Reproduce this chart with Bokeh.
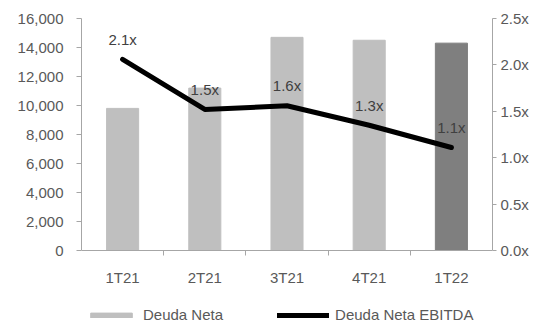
from bokeh.plotting import figure
from bokeh.models import (ColumnDataSource, Range1d, LinearAxis, FixedTicker,
                          NumeralTickFormatter, PrintfTickFormatter, Legend, LegendItem)
from bokeh.core.properties import value
from bokeh.embed import file_html
from bokeh.resources import INLINE

categories = ["1T21", "2T21", "3T21", "4T21", "1T22"]
deuda_neta = [9800, 11200, 14700, 14500, 14300]
ratio = [2.06, 1.52, 1.56, 1.35, 1.11]
ratio_labels = ["2.1x", "1.5x", "1.6x", "1.3x", "1.1x"]
bar_colors = ["#BFBFBF", "#BFBFBF", "#BFBFBF", "#BFBFBF", "#7F7F7F"]
left_ticks = [0, 2000, 4000, 6000, 8000, 10000, 12000, 14000, 16000]
right_ticks = [0.0, 0.5, 1.0, 1.5, 2.0, 2.5]

FONT = "Liberation Sans"
FS = "15px"
TXT = "#595959"
AX = "#A6A6A6"

# frame spans down to the bottom edge; value 0 sits 74px above it
LEFT_MAX = 16000
RIGHT_MAX = 2.5
PLOT_PX = 232
BELOW_PX = 74

xpos = [i + 0.5 for i in range(len(categories))]
src = ColumnDataSource(dict(x=xpos, cat=categories, dn=deuda_neta, r=ratio,
                            rl=ratio_labels, c=bar_colors))

p = figure(width=550, height=324, output_backend="svg", toolbar_location=None,
           x_range=Range1d(0, len(categories)),
           y_range=Range1d(-BELOW_PX * LEFT_MAX / PLOT_PX, LEFT_MAX),
           min_border_left=81, min_border_right=58, min_border_top=18,
           min_border_bottom=0)
p.outline_line_color = None
p.xgrid.grid_line_color = None
p.ygrid.grid_line_color = None
p.background_fill_color = "white"
p.border_fill_color = "white"

p.extra_y_ranges = {"ratio": Range1d(-BELOW_PX * RIGHT_MAX / PLOT_PX, RIGHT_MAX)}

bars = p.vbar(x="x", top="dn", bottom=0, width=0.39, color="c", source=src)
line = p.line(x="x", y="r", line_color="black", line_width=5, line_join="round",
              line_cap="round", y_range_name="ratio", source=src)
p.text(x="x", y="r", text="rl", y_range_name="ratio", source=src, y_offset=-20,
       text_align="center", text_baseline="middle", text_font=value(FONT),
       text_font_size=FS, text_color="#404040")

# x axis, fixed at value 0
xa = p.xaxis[0]
xa.fixed_location = 0
xa.ticker = FixedTicker(ticks=xpos, minor_ticks=[1, 2, 3, 4])
xa.major_label_overrides = {x: c for x, c in zip(xpos, categories)}
xa.major_tick_line_color = None
xa.minor_tick_line_color = AX
xa.minor_tick_out = 5
xa.minor_tick_in = 0
xa.axis_line_color = AX
xa.major_label_standoff = 12

# left axis
ya = p.yaxis[0]
ya.bounds = (0, LEFT_MAX)
ya.ticker = FixedTicker(ticks=left_ticks)
ya.formatter = NumeralTickFormatter(format="0,0")
ya.major_tick_out = 5
ya.major_tick_in = 0
ya.minor_tick_line_color = None
ya.axis_line_color = AX
ya.major_tick_line_color = AX
ya.major_label_standoff = 13

# right axis
ra = LinearAxis(y_range_name="ratio", ticker=FixedTicker(ticks=right_ticks),
                formatter=PrintfTickFormatter(format="%.1fx"), bounds=(0, RIGHT_MAX))
ra.major_tick_out = 4
ra.major_tick_in = 0
ra.minor_tick_line_color = None
ra.axis_line_color = AX
ra.major_tick_line_color = AX
ra.major_label_standoff = 4
p.add_layout(ra, "right")

for ax in [xa, ya, ra]:
    ax.major_label_text_font = FONT
    ax.major_label_text_font_size = FS
    ax.major_label_text_color = TXT

legend = Legend(items=[LegendItem(label="Deuda Neta", renderers=[bars]),
                       LegendItem(label="Deuda Neta EBITDA", renderers=[line])],
                location=(4, 1), orientation="horizontal",
                glyph_width=52, glyph_height=6, label_height=16,
                label_standoff=6, spacing=54, padding=0, margin=0,
                border_line_color=None, background_fill_alpha=0,
                label_text_font=FONT, label_text_font_size=FS,
                label_text_color=TXT)
p.add_layout(legend, "center")

open("out.html", "w").write(file_html(p, INLINE))
